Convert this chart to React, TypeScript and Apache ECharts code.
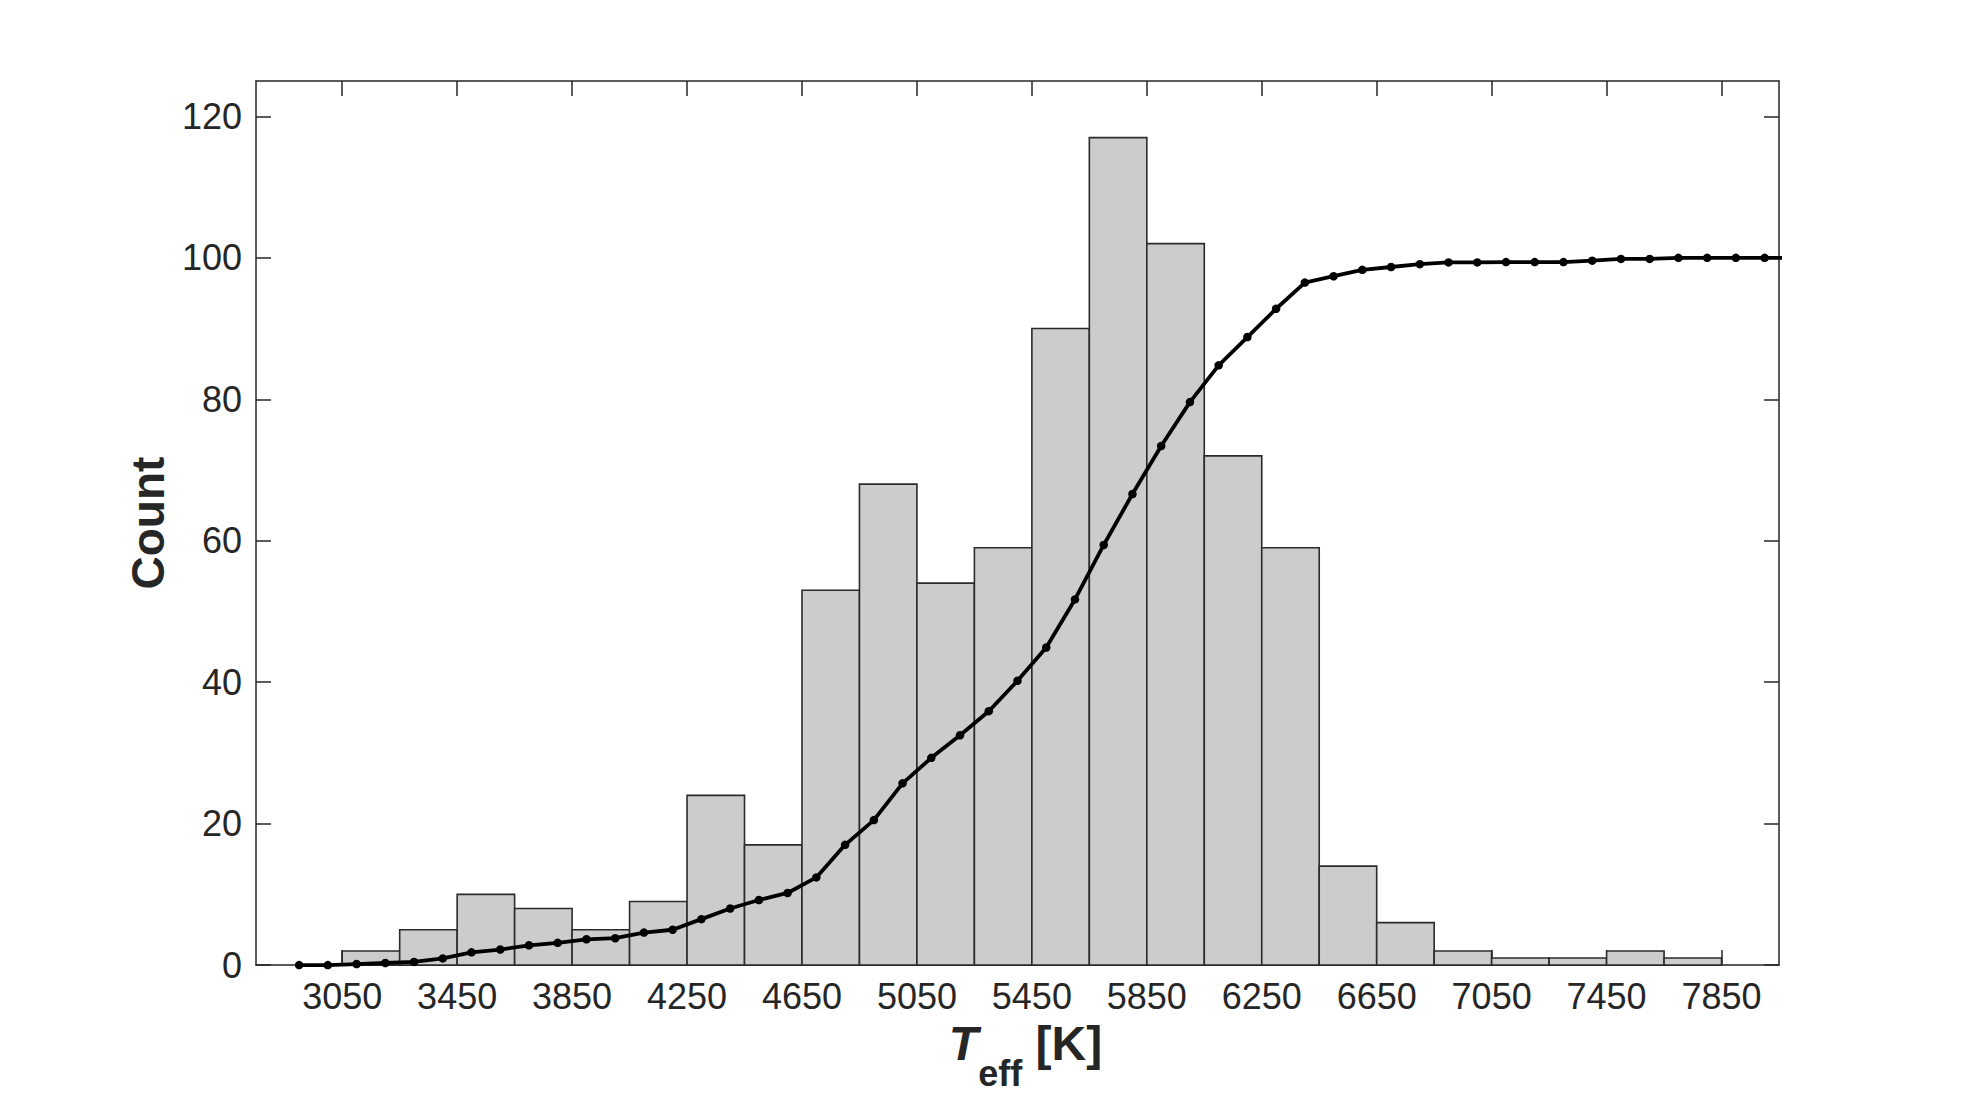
import React, { useEffect, useRef } from "react";
import * as echarts from "echarts";

// Histogram bin edges (K) and counts
const binEdges = [3050, 3250, 3450, 3650, 3850, 4050, 4250, 4450, 4650, 4850, 5050, 5250, 5450, 5650, 5850, 6050, 6250, 6450, 6650, 6850, 7050, 7250, 7450, 7650, 7850];
const counts = [2, 5, 10, 8, 5, 9, 24, 17, 53, 68, 54, 59, 90, 117, 102, 72, 59, 14, 6, 2, 1, 1, 2, 1];

// Cumulative curve (percent)
const cumTeff = [2900, 3000, 3100, 3200, 3300, 3400, 3500, 3600, 3700, 3800, 3900, 4000, 4100, 4200, 4300, 4400, 4500, 4600, 4700, 4800, 4900, 5000, 5100, 5200, 5300, 5400, 5500, 5600, 5700, 5800, 5900, 6000, 6100, 6200, 6300, 6400, 6500, 6600, 6700, 6800, 6900, 7000, 7100, 7200, 7300, 7400, 7500, 7600, 7700, 7800, 7900, 8000, 8100];
const cumValues = [0, 0, 0.15, 0.3, 0.45, 0.95, 1.8, 2.2, 2.8, 3.15, 3.65, 3.8, 4.6, 5.0, 6.5, 8.0, 9.2, 10.2, 12.4, 17.0, 20.5, 25.7, 29.3, 32.5, 35.9, 40.2, 44.9, 51.7, 59.4, 66.6, 73.4, 79.6, 84.8, 88.8, 92.8, 96.5, 97.4, 98.3, 98.7, 99.1, 99.35, 99.35, 99.4, 99.4, 99.4, 99.6, 99.85, 99.85, 100, 100, 100, 100, 100];

// Axes
const xTicks = [3050, 3450, 3850, 4250, 4650, 5050, 5450, 5850, 6250, 6650, 7050, 7450, 7850];
const yTicks = [0, 20, 40, 60, 80, 100, 120];
const xMin = 2750;
const xMax = 8050;
const yMin = 0;
const yMax = 125;

const FONT = "Liberation Sans, Arial, Helvetica, sans-serif";
const INK = "#262626";

export default function App() {
  const ref = useRef<HTMLDivElement>(null);

  useEffect(() => {
    if (!ref.current) return;
    const chart = echarts.init(ref.current, undefined, { renderer: "svg" });

    const histData = counts.map((c, i) => [binEdges[i], binEdges[i + 1], c]);
    const cumData = cumTeff.map((t, i) => [t, cumValues[i]]);

    const tickStyle = { show: true, inside: true, length: 15, lineStyle: { color: INK, width: 1.5 } };
    const lineStyle = { show: true, onZero: false, lineStyle: { color: INK, width: 1.5 } };

    const option: any = {
      animation: false,
      backgroundColor: "#ffffff",
      grid: { left: 256, top: 81, width: 1523, height: 894, containLabel: false },
      xAxis: [
        {
          type: "value",
          position: "bottom",
          min: xMin,
          max: xMax,
          axisLine: lineStyle,
          axisTick: { ...tickStyle, customValues: xTicks },
          axisLabel: {
            customValues: xTicks,
            formatter: (v: number) => String(v),
            color: INK,
            fontFamily: FONT,
            fontSize: 36,
            margin: 13,
          },
          splitLine: { show: false },
          name: "{t|T}{s|eff}{k| [K]}",
          nameLocation: "middle",
          nameGap: 43,
          nameTextStyle: {
            color: INK,
            fontFamily: FONT,
            rich: {
              t: { fontFamily: FONT, fontSize: 48, fontWeight: "bold", fontStyle: "italic", color: INK, lineHeight: 48, verticalAlign: "top", padding: [0, 0, 0, 16] },
              s: { fontFamily: FONT, fontSize: 36, fontWeight: "bold", color: INK, lineHeight: 36, verticalAlign: "top", padding: [36, 0, 0, 0] },
              k: { fontFamily: FONT, fontSize: 48, fontWeight: "bold", color: INK, lineHeight: 48, verticalAlign: "top" },
            },
          },
        },
        {
          type: "value",
          position: "top",
          min: xMin,
          max: xMax,
          axisLine: lineStyle,
          axisTick: { ...tickStyle, customValues: xTicks },
          axisLabel: { show: false },
          splitLine: { show: false },
        },
      ],
      yAxis: [
        {
          type: "value",
          position: "left",
          min: yMin,
          max: yMax,
          axisLine: lineStyle,
          axisTick: { ...tickStyle, customValues: yTicks },
          axisLabel: {
            customValues: yTicks,
            color: INK,
            fontFamily: FONT,
            fontSize: 36,
            margin: 14,
          },
          splitLine: { show: false },
          name: "Count",
          nameLocation: "middle",
          nameRotate: 90,
          nameGap: 81,
          nameTextStyle: { color: INK, fontFamily: FONT, fontSize: 46, fontWeight: "bold" },
        },
        {
          type: "value",
          position: "right",
          min: yMin,
          max: yMax,
          axisLine: lineStyle,
          axisTick: { ...tickStyle, customValues: yTicks },
          axisLabel: { show: false },
          splitLine: { show: false },
        },
      ],
      series: [
        {
          type: "custom",
          name: "Histogram",
          xAxisIndex: 0,
          yAxisIndex: 0,
          data: histData,
          encode: { x: [0, 1], y: 2 },
          z: 2,
          renderItem: (params: any, api: any) => {
            const lo = api.value(0);
            const hi = api.value(1);
            const c = api.value(2);
            const p0 = api.coord([lo, c]);
            const p1 = api.coord([hi, 0]);
            return {
              type: "rect",
              shape: { x: p0[0], y: p0[1], width: p1[0] - p0[0], height: p1[1] - p0[1] },
              style: { fill: "#cccccc", stroke: "#2b2b2b", lineWidth: 1.6 },
            };
          },
        },
        {
          type: "line",
          name: "Cumulative",
          xAxisIndex: 0,
          yAxisIndex: 0,
          data: cumData,
          clip: true,
          z: 5,
          symbol: "circle",
          symbolSize: 8.5,
          showAllSymbol: true,
          lineStyle: { color: "#000000", width: 3.8 },
          itemStyle: { color: "#000000" },
        },
      ],
    };

    chart.setOption(option);
    return () => chart.dispose();
  }, []);

  return (
    <div
      ref={ref}
      style={{ position: "fixed", left: 0, top: 0, width: "1967px", height: "1096px", background: "#fff" }}
    />
  );
}
